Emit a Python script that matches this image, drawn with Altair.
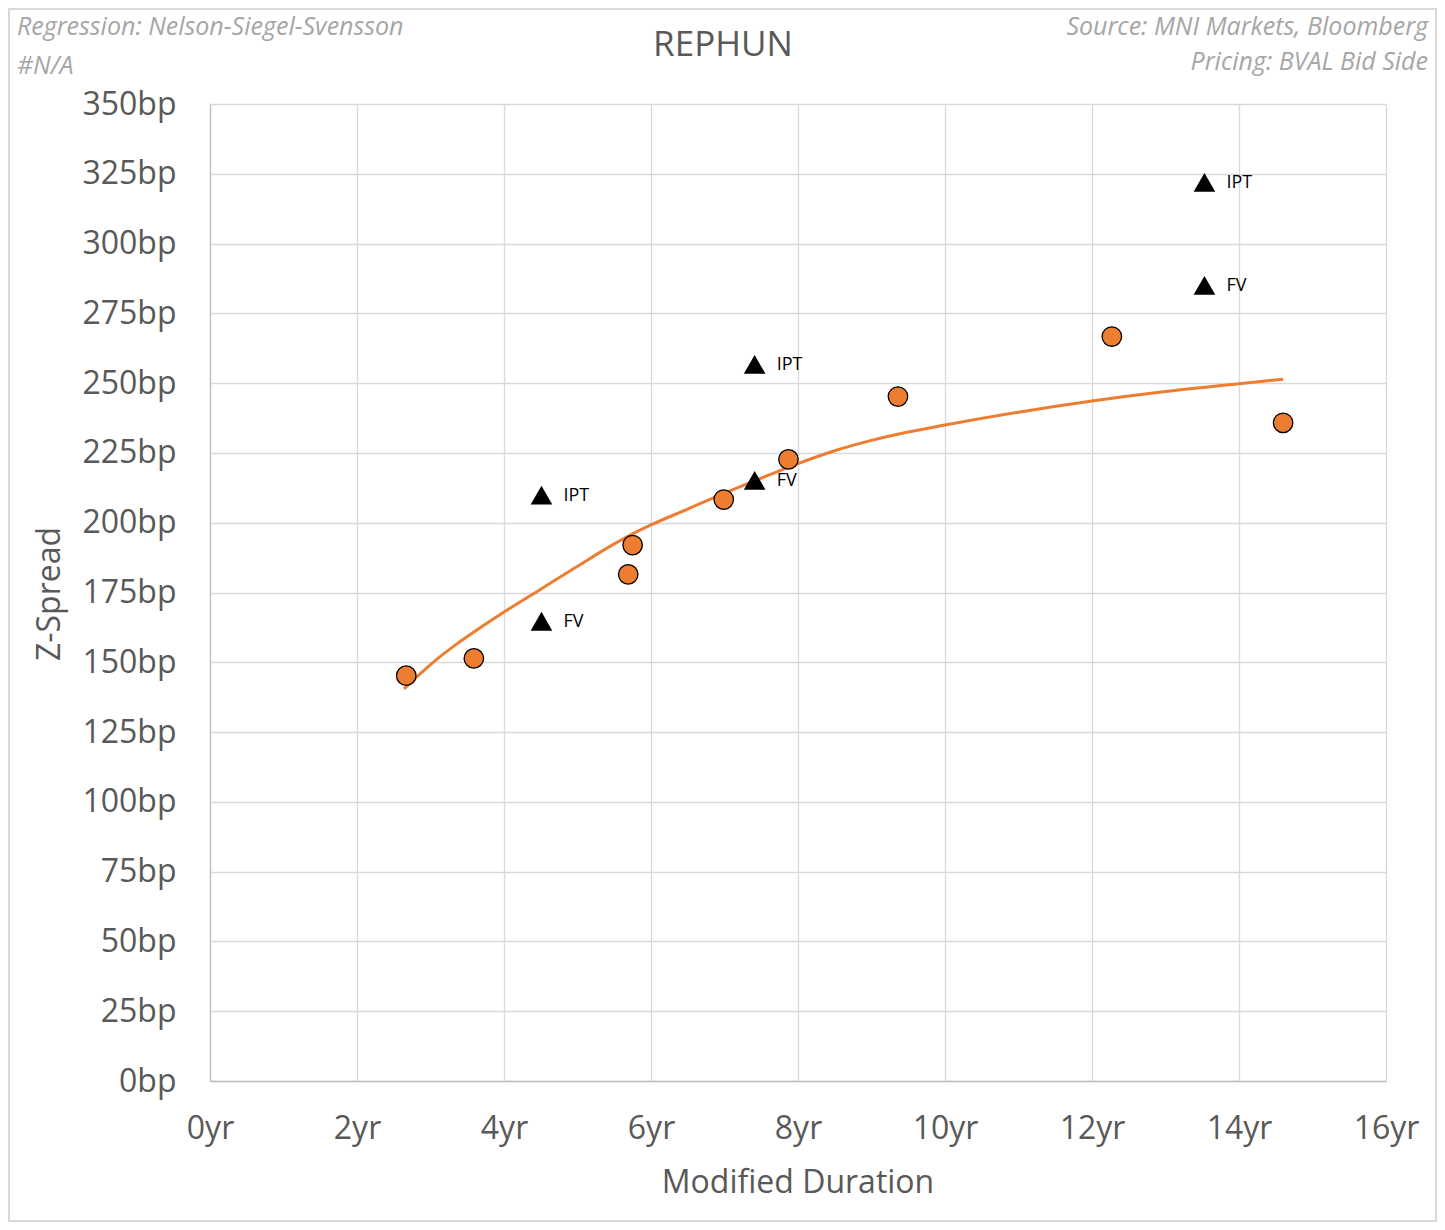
import altair as alt
import pandas as pd

# Existing bonds (orange circles)
bond_duration = [2.67, 3.59, 5.69, 5.75, 6.99, 7.87, 9.36, 12.27, 14.60]
bond_zspread = [145.2, 151.4, 181.5, 192.0, 208.3, 222.7, 245.2, 266.7, 235.8]

# New issue markers (black triangles)
new_duration = [4.51, 4.51, 7.41, 7.41, 13.53, 13.53]
new_zspread = [209.9, 164.7, 256.7, 215.2, 321.9, 285.0]
new_label = ["IPT", "FV", "IPT", "FV", "IPT", "FV"]

# Nelson-Siegel-Svensson fitted curve
curve_duration = [2.64, 2.9, 3.13, 3.36, 3.6, 4.0, 4.5, 5.0, 5.5, 5.75, 6.0, 6.5, 7.0, 7.5,
                  8.0, 8.5, 9.0, 9.5, 10.0, 11.0, 12.0, 13.0, 14.0, 14.6]
curve_zspread = [140.5, 146.8, 152.0, 156.6, 161.0, 168.0, 176.2, 184.4, 192.4, 196.0, 199.2,
                 204.9, 210.6, 216.0, 221.2, 225.8, 229.5, 232.5, 235.0, 239.6, 243.6,
                 247.0, 249.8, 251.4]

x_ticks = [0, 2, 4, 6, 8, 10, 12, 14, 16]
y_ticks = [0, 25, 50, 75, 100, 125, 150, 175, 200, 225, 250, 275, 300, 325, 350]

title_text = "REPHUN"
subtitle_left = ["Regression: Nelson-Siegel-Svensson", "#N/A"]
subtitle_right = ["Source: MNI Markets, Bloomberg", "Pricing: BVAL Bid Side"]
x_title = "Modified Duration"
y_title = "Z-Spread"

FONT = "Open Sans"
ORANGE = "#ED7D31"
AXIS_GREY = "#595959"
SUB_GREY = "#A6A6A6"

bonds = pd.DataFrame({"dur": bond_duration, "z": bond_zspread})
news = pd.DataFrame({"dur": new_duration, "z": new_zspread, "label": new_label})
curve = pd.DataFrame({"dur": curve_duration, "z": curve_zspread})

W, H = 1176, 977

xscale = alt.Scale(domain=[0, 16], nice=False)
yscale = alt.Scale(domain=[0, 350], nice=False)

xaxis = alt.Axis(values=x_ticks, labelExpr="datum.value + 'yr'", title=None,
                 grid=True, gridColor="#D9D9D9", gridWidth=1.3, ticks=False,
                 domainColor="#BFBFBF", domainWidth=1.3, labelFont=FONT,
                 labelFontSize=32, labelColor=AXIS_GREY, labelPadding=32,
                 labelFlush=False, labelOverlap=False)
yaxis = alt.Axis(values=y_ticks, labelExpr="datum.value + 'bp'", title=None,
                 grid=True, gridColor="#D9D9D9", gridWidth=1.3, ticks=False,
                 domainColor="#BFBFBF", domainWidth=1.3, labelFont=FONT,
                 labelFontSize=32, labelColor=AXIS_GREY, labelPadding=34,
                 labelFlush=False, labelOverlap=False)

base_axes = alt.Chart(curve).mark_point(opacity=0).encode(
    x=alt.X("dur:Q", scale=xscale, axis=xaxis),
    y=alt.Y("z:Q", scale=yscale, axis=yaxis),
)

line = alt.Chart(curve).mark_line(color=ORANGE, strokeWidth=3, interpolate="monotone").encode(
    x=alt.X("dur:Q", scale=xscale),
    y=alt.Y("z:Q", scale=yscale),
)

circles = alt.Chart(bonds).mark_point(shape="circle", filled=True, fill=ORANGE,
                                      stroke="black", strokeWidth=1.3, size=380,
                                      opacity=1).encode(
    x=alt.X("dur:Q", scale=xscale),
    y=alt.Y("z:Q", scale=yscale),
)

triangles = alt.Chart(news).mark_point(shape="triangle-up", filled=True, fill="black",
                                       size=470, opacity=1).encode(
    x=alt.X("dur:Q", scale=xscale),
    y=alt.Y("z:Q", scale=yscale),
)

labels = alt.Chart(news).mark_text(align="left", baseline="middle", dx=22, dy=1,
                                   font=FONT, fontSize=18, color="black").encode(
    x=alt.X("dur:Q", scale=xscale),
    y=alt.Y("z:Q", scale=yscale),
    text="label:N",
)

one = alt.Data(values=[{}])


def txt(text, x, y, size, color, align="center", style="normal", angle=0):
    kw = dict(align=align, baseline="middle", font=FONT, fontSize=size, color=color,
              fontStyle=style)
    if angle:
        kw["angle"] = angle
    return alt.Chart(one).mark_text(**kw).encode(
        x=alt.value(x), y=alt.value(y), text=alt.value(text))


texts = [
    txt(title_text, 513, -59, 35, AXIS_GREY),
    txt(subtitle_left[0], -193, -77, 25, SUB_GREY, align="left", style="italic"),
    txt(subtitle_left[1], -193, -38, 25, SUB_GREY, align="left", style="italic"),
    txt(subtitle_right[0], 1218, -77, 25, SUB_GREY, align="right", style="italic"),
    txt(subtitle_right[1], 1218, -42, 25, SUB_GREY, align="right", style="italic"),
    txt(x_title, 588, 1079, 32, AXIS_GREY),
    txt(y_title, -160, 490, 32, AXIS_GREY, angle=270),
]

border = alt.Chart(one).mark_rect(fill=None, stroke="#D9D9D9", strokeWidth=2).encode(
    x=alt.value(-201), x2=alt.value(1226), y=alt.value(-95), y2=alt.value(1117))

chart = alt.layer(border, base_axes, line, circles, triangles, labels, *texts).properties(
    width=W, height=H,
    autosize=alt.AutoSizeParams(type="none"),
    padding={"left": 202, "top": 96, "right": 51, "bottom": 141},
    background="white",
).configure_view(stroke=None)

chart.save("out.html", embed_options={"renderer": "svg", "actions": False})
